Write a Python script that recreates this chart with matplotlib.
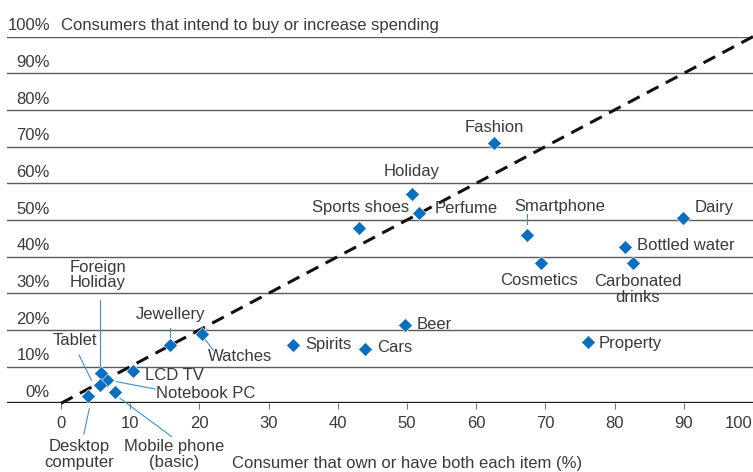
import matplotlib.pyplot as plt

plt.rcParams['font.family'] = ['Liberation Sans', 'DejaVu Sans']

# data: % owning (x) vs % intending to buy / spend more (y)
items = ['Fashion', 'Holiday', 'Sports shoes', 'Perfume', 'Smartphone', 'Dairy',
         'Bottled water', 'Cosmetics', 'Carbonated\ndrinks', 'Beer', 'Spirits', 'Cars',
         'Property', 'Jewellery', 'Watches', 'LCD TV', 'Notebook PC', 'Foreign\nHoliday',
         'Tablet', 'Mobile phone\n(basic)', 'Desktop\ncomputer']
own = [62.6, 50.7, 43.0, 51.8, 67.4, 89.9, 81.5, 69.4, 82.7, 49.7, 33.6, 44.0,
       76.1, 15.8, 20.4, 10.4, 6.6, 5.8, 5.6, 7.8, 3.9]
intend = [70.9, 57.2, 47.8, 52.0, 45.9, 50.5, 42.6, 38.2, 38.2, 21.4, 15.9, 14.7,
          16.8, 15.9, 18.8, 8.9, 6.3, 8.3, 5.0, 3.2, 2.0]

x_ticks = [0, 10, 20, 30, 40, 50, 60, 70, 80, 90, 100]
y_ticks = [0, 10, 20, 30, 40, 50, 60, 70, 80, 90, 100]

# label layout: (x, y, ha), and optional leader line ((x0, y0), (x1, y1))
layout = {
    'Fashion': (62.6, 75.3, 'center'),
    'Holiday': (50.6, 63.1, 'center'),
    'Sports shoes': (50.3, 53.5, 'right'),
    'Perfume': (54.0, 53.0, 'left'),
    'Smartphone': (72.0, 53.8, 'center'),
    'Dairy': (91.6, 53.5, 'left'),
    'Bottled water': (83.3, 42.9, 'left'),
    'Cosmetics': (69.1, 33.6, 'center'),
    'Carbonated\ndrinks': (83.3, 31.1, 'center'),
    'Beer': (51.4, 21.6, 'left'),
    'Spirits': (35.3, 15.9, 'left'),
    'Cars': (45.7, 15.1, 'left'),
    'Property': (77.7, 16.4, 'left'),
    'Jewellery': (15.8, 24.1, 'center'),
    'Watches': (21.2, 12.7, 'left'),
    'LCD TV': (12.1, 7.5, 'left'),
    'Notebook PC': (13.8, 2.7, 'left'),
    'Foreign\nHoliday': (5.3, 35.0, 'center'),
    'Tablet': (2.0, 17.0, 'center'),
    'Mobile phone\n(basic)': (16.3, -13.9, 'center'),
    'Desktop\ncomputer': (2.6, -13.9, 'center'),
}
leaders = {
    'Smartphone': ((67.4, 51.5), (67.4, 48.8)),
    'Jewellery': ((15.8, 20.5), (15.8, 18.1)),
    'Watches': ((20.8, 17.5), (22.0, 14.5)),
    'Notebook PC': ((8.0, 5.9), (13.6, 3.9)),
    'Foreign\nHoliday': ((5.7, 28.3), (5.7, 9.1)),
    'Tablet': ((2.6, 13.2), (4.4, 6.3)),
    'Mobile phone\n(basic)': ((8.5, 1.4), (16.0, -9.1)),
    'Desktop\ncomputer': ((4.1, -1.4), (3.3, -8.4)),
}

text_col = '#3a3a3a'
blue = '#0a6fc0'
fs = 12

fig = plt.figure(figsize=(7.53, 4.72), dpi=100)
ax = fig.add_axes([7 / 753, (472 - 403.3) / 472, 746 / 753, (403.3 - 36.6) / 472])
ax.set_xlim(-7.8, 100)
ax.set_ylim(0, 100)
for s in ax.spines.values():
    s.set_visible(False)

for v in y_ticks[1:]:
    ax.axhline(v, color='#5a5a5a', lw=1.0, zorder=1)
for v in y_ticks:
    ax.text(-1.6, v + 0.9, f'{v}%', ha='right', va='bottom', fontsize=fs, color=text_col)
ax.axhline(0, color='#1a1a1a', lw=2.4, zorder=3)
ax.text(0, 100.9, 'Consumers that intend to buy or increase spending',
        ha='left', va='bottom', fontsize=fs, color=text_col)

ax.set_yticks([])
ax.set_xticks(x_ticks)
ax.tick_params(axis='x', direction='out', length=4, width=0.8, color='#777777',
               labelsize=fs, labelcolor=text_col, pad=5)
ax.get_xticklabels()[-1].set_horizontalalignment('right')
ax.text(50, -16.3, 'Consumer that own or have both each item (%)', ha='center',
        va='center', fontsize=fs, color=text_col)

ax.plot([0, 100], [0, 100], color='#111111', lw=2.2, dashes=(4.3, 2.7), zorder=2,
        clip_on=False)

for name, (p0, p1) in leaders.items():
    ax.plot([p0[0], p1[0]], [p0[1], p1[1]], color='#3d8fd4', lw=0.8, zorder=4,
            clip_on=False)

ax.plot(own, intend, 'D', color=blue, ms=7.4, mec='white', mew=0.4, zorder=5,
        clip_on=False)

for name in items:
    lx, ly, ha = layout[name]
    ax.text(lx, ly, name, ha=ha, va='center', fontsize=fs, color=text_col,
            linespacing=1.05, zorder=6)

fig.savefig('out.png', dpi=100)
